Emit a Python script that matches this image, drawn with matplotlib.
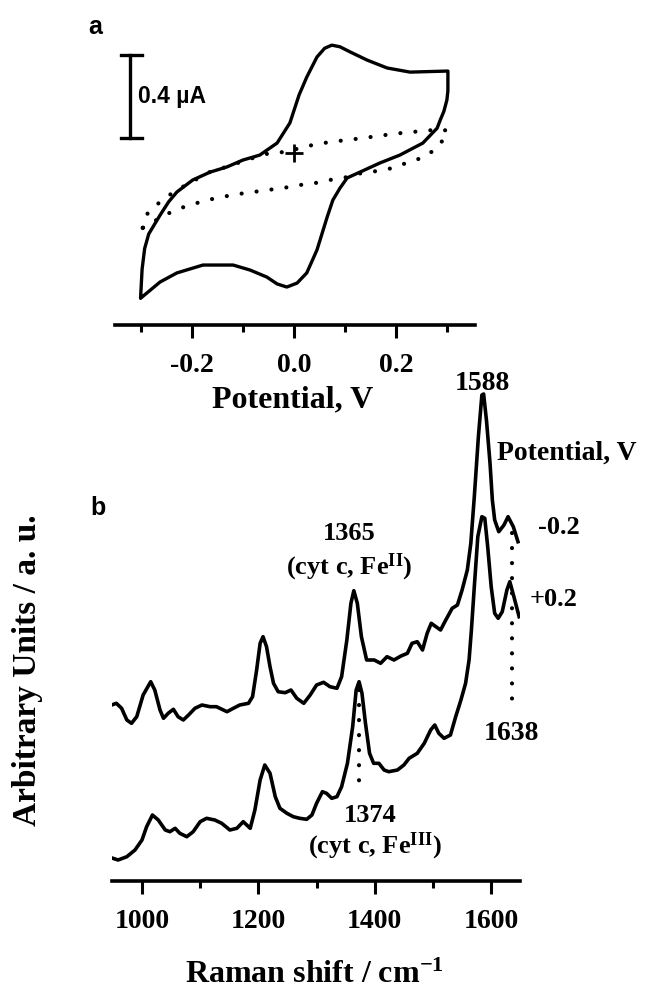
import matplotlib
matplotlib.use("Agg")
import matplotlib.pyplot as plt

plt.rcParams['mathtext.fontset'] = 'custom'
plt.rcParams['mathtext.rm'] = 'Liberation Serif:bold'
plt.rcParams['mathtext.bf'] = 'Liberation Serif:bold'
plt.rcParams['mathtext.it'] = 'Liberation Serif:bold'
plt.rcParams['axes.unicode_minus'] = False

SERIF = 'Liberation Serif'
SANS = 'Liberation Sans'

# ---------------- Panel a: cyclic voltammogram (V, uA) ----------------
cv_fwd_v = [-0.300, -0.297, -0.292, -0.284, -0.262, -0.245, -0.229, -0.198, -0.164, -0.131,
            -0.100, -0.067, -0.033, -0.008, 0.010, 0.025, 0.045, 0.060, 0.074, 0.090,
            0.110, 0.143, 0.182, 0.227, 0.299]
cv_fwd_i = [-0.699, -0.560, -0.460, -0.390, -0.300, -0.235, -0.188, -0.130, -0.092, -0.067,
            -0.034, -0.010, 0.048, 0.145, 0.280, 0.366, 0.463, 0.505, 0.520, 0.512,
            0.487, 0.448, 0.410, 0.390, 0.395]
cv_rev_v = [0.301, 0.301, 0.299, 0.293, 0.286, 0.280, 0.252, 0.207, 0.168, 0.129,
            0.104, 0.090, 0.076, 0.065, 0.045, 0.025, 0.006, -0.014, -0.033, -0.053,
            -0.086, -0.119, -0.178, -0.229, -0.262, -0.297, -0.300]
cv_rev_i = [0.395, 0.300, 0.255, 0.200, 0.159, 0.120, 0.048, -0.010, -0.048, -0.092,
            -0.120, -0.169, -0.227, -0.308, -0.467, -0.578, -0.627, -0.646, -0.631, -0.598,
            -0.564, -0.540, -0.540, -0.578, -0.622, -0.694, -0.699]

# background (dotted) voltammogram
bg_v = [-0.296, -0.286, -0.258, -0.229, -0.200, -0.170, -0.139, -0.110, -0.080, -0.047,
        -0.018, 0.012, 0.037, 0.070, 0.104, 0.135, 0.164, 0.194, 0.227, 0.256,
        0.286, 0.301,
        0.284, 0.256, 0.225, 0.194, 0.162, 0.133, 0.104, 0.070, 0.041, 0.012,
        -0.022, -0.051, -0.080, -0.110, -0.141, -0.170, -0.204, -0.233, -0.262, -0.296]
bg_i = [-0.361, -0.289, -0.227, -0.178, -0.140, -0.096, -0.072, -0.048, -0.024, 0.000,
        0.005, 0.024, 0.039, 0.053, 0.063, 0.072, 0.082, 0.092, 0.101, 0.106,
        0.116, 0.106,
        0.034, -0.019, -0.043, -0.072, -0.087, -0.096, -0.116, -0.130, -0.145, -0.154,
        -0.169, -0.178, -0.188, -0.198, -0.212, -0.227, -0.251, -0.275, -0.313, -0.361]

cv_major_ticks = [-0.2, 0.0, 0.2]
cv_major_labels = ['-0.2', '0.0', '0.2']
cv_minor_ticks = [-0.3, -0.1, 0.1, 0.3]
scalebar_value = 0.4  # uA

# ---------------- Panel b: Raman spectra ----------------
wn_m02 = [948, 956, 965, 974, 982, 991, 1002, 1015, 1022, 1031, 1037, 1045, 1054, 1062,
          1071, 1080, 1091, 1103, 1117, 1128, 1146, 1157, 1168, 1183, 1190, 1197, 1203,
          1208, 1214, 1220, 1226, 1234, 1246, 1256, 1266, 1278, 1289, 1300, 1312, 1323,
          1335, 1343, 1352, 1359, 1364, 1370, 1377, 1386, 1395, 1399, 1410, 1421, 1433,
          1445, 1456, 1464, 1473, 1482, 1490, 1497, 1505, 1513, 1522, 1533, 1542, 1550,
          1559, 1565, 1571, 1578, 1584, 1587, 1592, 1598, 1602, 1606, 1613, 1622, 1629,
          1638, 1646]
int_m02 = [1.76, 1.777, 1.727, 1.61, 1.577, 1.643, 1.86, 1.993, 1.91, 1.71, 1.627, 1.677,
           1.717, 1.643, 1.61, 1.66, 1.727, 1.76, 1.743, 1.743, 1.693, 1.727, 1.76, 1.777,
           1.843, 2.11, 2.377, 2.443, 2.343, 2.143, 1.977, 1.893, 1.883, 1.91, 1.827,
           1.777, 1.86, 1.96, 1.987, 1.943, 1.927, 2.043, 2.41, 2.777, 2.903, 2.777, 2.443,
           2.21, 2.21, 2.21, 2.177, 2.243, 2.21, 2.25, 2.277, 2.377, 2.393, 2.31, 2.477,
           2.577, 2.543, 2.51, 2.61, 2.727, 2.76, 2.91, 3.11, 3.377, 3.843, 4.443, 4.86,
           4.87, 4.60, 4.177, 3.81, 3.61, 3.493, 3.56, 3.643, 3.543, 3.393]

wn_p02 = [950, 959, 974, 988, 1000, 1008, 1018, 1028, 1040, 1048, 1057, 1065, 1077, 1088,
          1100, 1111, 1125, 1137, 1151, 1163, 1174, 1186, 1194, 1203, 1211, 1220, 1229,
          1237, 1249, 1260, 1271, 1283, 1292, 1300, 1310, 1317, 1326, 1335, 1343, 1353,
          1362, 1368, 1373, 1378, 1384, 1391, 1398, 1407, 1416, 1424, 1439, 1450, 1459,
          1473, 1485, 1496, 1503, 1510, 1519, 1530, 1539, 1548, 1556, 1562, 1566, 1571,
          1577, 1584, 1589, 1594, 1600, 1606, 1612, 1619, 1627, 1632, 1639, 1648]
int_p02 = [0.227, 0.21, 0.243, 0.31, 0.41, 0.543, 0.66, 0.61, 0.51, 0.493, 0.527, 0.477,
           0.443, 0.493, 0.593, 0.627, 0.61, 0.577, 0.51, 0.527, 0.593, 0.527, 0.71, 1.01,
           1.16, 1.077, 0.843, 0.727, 0.677, 0.643, 0.627, 0.617, 0.66, 0.777, 0.893,
           0.877, 0.827, 0.843, 0.943, 1.177, 1.543, 1.91, 1.993, 1.877, 1.577, 1.277,
           1.177, 1.177, 1.11, 1.093, 1.11, 1.16, 1.227, 1.277, 1.377, 1.51, 1.56, 1.477,
           1.427, 1.46, 1.643, 1.81, 1.977, 2.21, 2.51, 2.943, 3.443, 3.643, 3.627, 3.343,
           2.943, 2.677, 2.627, 2.693, 2.91, 2.993, 2.843, 2.643]

raman_major_ticks = [1000, 1200, 1400, 1600]
raman_minor_ticks = [1100, 1300, 1500]

mark_1638_wn = 1635
mark_1638_range = [3.48, 1.78]
mark_1374_wn = 1373
mark_1374_range = [1.91, 0.98]

# ---------------- Figure ----------------
fig = plt.figure(figsize=(6.48, 9.9), dpi=100)

# Panel b first (so panel a texts are never hidden by it)
axb = fig.add_axes([112/648, 1-881/990, 408/648, 511/990])
axb.patch.set_visible(False)
axb.plot(wn_m02, int_m02, color='black', lw=2.6, solid_joinstyle='round')
axb.plot(wn_p02, int_p02, color='black', lw=2.6, solid_joinstyle='round')
axb.plot([mark_1638_wn, mark_1638_wn], mark_1638_range, color='black', lw=3.0,
         linestyle=(0, (0.01, 3.6)), dash_capstyle='round')
axb.plot([mark_1374_wn, mark_1374_wn], mark_1374_range, color='black', lw=3.0,
         linestyle=(0, (0.01, 3.6)), dash_capstyle='round')

axb.set_xlim(948.5, 1649.5)
axb.set_ylim(0, 5.11)
for s in ('left', 'right', 'top'):
    axb.spines[s].set_visible(False)
axb.spines['bottom'].set_linewidth(2.6)
axb.set_yticks([])
axb.set_xticks(raman_major_ticks)
axb.set_xticks(raman_minor_ticks, minor=True)
axb.tick_params(axis='x', which='major', direction='out', length=9.5, width=2.2, pad=11)
axb.tick_params(axis='x', which='minor', direction='out', length=5, width=2.2)
for lab in axb.get_xticklabels():
    lab.set_family(SERIF)
    lab.set_weight('bold')
    lab.set_fontsize(20)
axb.set_xlabel('Raman shift / cm$^{-1}$', family=SERIF, weight='bold', fontsize=23)
axb.xaxis.label.set_va('center')
axb.xaxis.set_label_coords(0.495, -0.184)
axb.set_ylabel('Arbitrary Units / a. u.', family=SERIF, weight='bold', fontsize=24)
axb.yaxis.label.set_va('center')
axb.yaxis.set_label_coords(-0.206, 0.413)

tkw = dict(family=SERIF, weight='bold', ha='center', va='center', clip_on=False)
axb.text(1585, 4.98, '1588', fontsize=20, **tkw)
axb.text(1730, 4.28, 'Potential, V', fontsize=20, **tkw)
axb.text(1716, 3.54, '-0.2', fontsize=19, **tkw)
axb.text(1708, 2.81, '+0.2', fontsize=19, **tkw)
axb.text(1356, 3.47, '1365', fontsize=19, **tkw)
axb.text(1356, 3.14, '(cyt c, Fe$^{\\mathrm{II}}$)', fontsize=19, **tkw)
axb.text(1634, 1.48, '1638', fontsize=20, **tkw)
axb.text(1393, 0.655, '1374', fontsize=19, **tkw)
axb.text(1400, 0.345, '(cyt c, Fe$^{\\mathrm{III}}$)', fontsize=19, **tkw)
fig.text(98/648, 1-508/990, 'b', family=SANS, weight='bold', fontsize=18,
         ha='center', va='center')

# Panel a
axa = fig.add_axes([115/648, 1-325/990, 360/648, 295/990])
axa.patch.set_visible(False)
axa.plot(cv_fwd_v + cv_rev_v, cv_fwd_i + cv_rev_i, color='black', lw=2.4,
         solid_joinstyle='round', solid_capstyle='round')
axa.plot(bg_v, bg_i, color='black', lw=3.0, linestyle=(0, (0.01, 3.6)),
         dash_capstyle='round')
axa.plot([0.0], [0.0], marker='+', markersize=13, mew=2.0, color='black')

# scale bar
sb_x = -0.321
sb_lo = 0.072
axa.plot([sb_x, sb_x], [sb_lo, sb_lo + scalebar_value], color='black', lw=2.4)
for yy in (sb_lo, sb_lo + scalebar_value):
    axa.plot([sb_x - 0.017, sb_x + 0.023], [yy, yy], color='black', lw=2.4)
axa.text(-0.305, sb_lo + scalebar_value / 2, '0.4 \u00b5A', family=SANS, weight='bold',
         fontsize=16.5, ha='left', va='center')

axa.set_xlim(-0.35, 0.354)
axa.set_ylim(-0.829, 0.593)
for s in ('left', 'right', 'top'):
    axa.spines[s].set_visible(False)
axa.spines['bottom'].set_linewidth(2.6)
axa.set_yticks([])
axa.set_xticks(cv_major_ticks)
axa.set_xticklabels(cv_major_labels)
axa.set_xticks(cv_minor_ticks, minor=True)
axa.tick_params(axis='x', which='major', direction='out', length=9.5, width=2.2, pad=11)
axa.tick_params(axis='x', which='minor', direction='out', length=5, width=2.2)
for lab in axa.get_xticklabels():
    lab.set_family(SERIF)
    lab.set_weight('bold')
    lab.set_fontsize(20)
axa.set_xlabel('Potential, V', family=SERIF, weight='bold', fontsize=23)
axa.xaxis.label.set_va('center')
axa.xaxis.set_label_coords(0.493, -0.254)
fig.text(95/648, 1-27/990, 'a', family=SANS, weight='bold', fontsize=18,
         ha='center', va='center')

fig.savefig('out.png', dpi=100)
